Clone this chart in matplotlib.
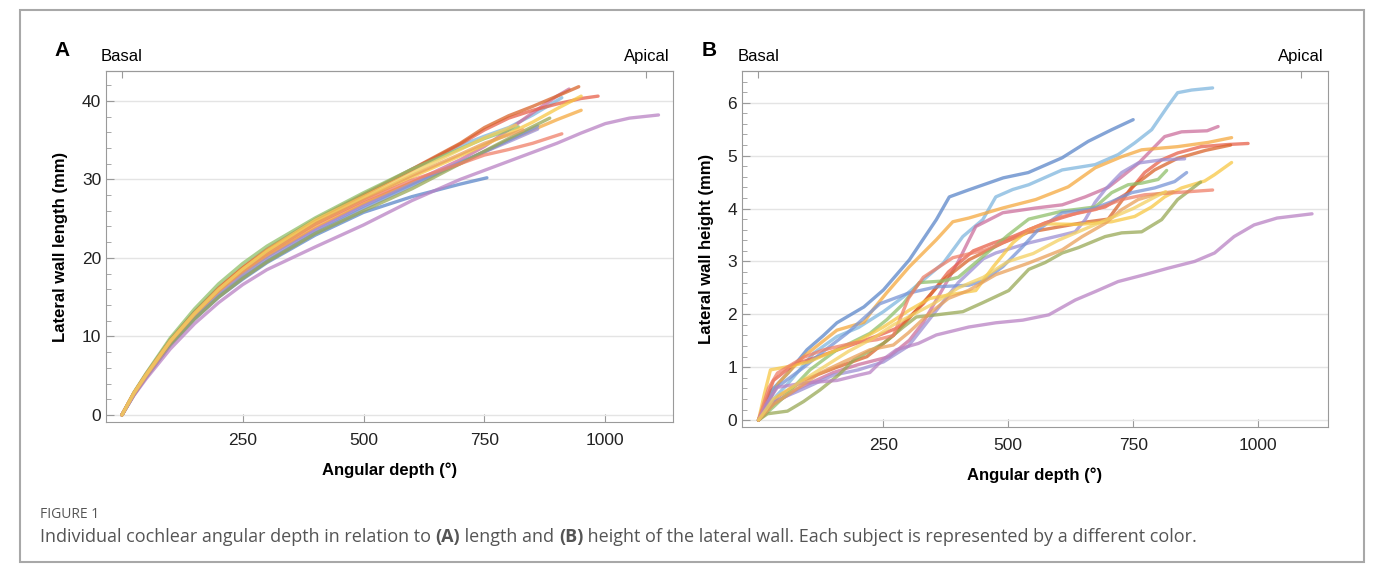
import matplotlib
matplotlib.use("Agg")
import matplotlib.pyplot as plt
from matplotlib.ticker import MultipleLocator
from matplotlib.patches import Rectangle

# subjects: colour, angular depth samples and readings for length (A) / height (B)
colors = ["#5b86c9", "#7fb6de", "#cc6f9c", "#f5a93f", "#e8604a", "#d9652b", "#9c8fd4",
          "#8fc06a", "#7895d6", "#f7c744", "#98a855", "#ef7f68", "#b982c4", "#e9a05a", "#f3d060"]

len_deg = [
    [0, 25, 50, 100, 150, 200, 250, 300, 400, 500, 600, 650, 700, 755],
    [0, 25, 50, 100, 150, 200, 250, 300, 400, 500, 600, 700, 750, 800, 850, 910],
    [0, 25, 50, 100, 150, 200, 250, 300, 400, 500, 600, 700, 750, 800, 850, 900, 925],
    [0, 25, 50, 100, 150, 200, 250, 300, 400, 500, 600, 700, 750, 800, 850, 900, 950],
    [0, 25, 50, 100, 150, 200, 250, 300, 400, 500, 600, 700, 750, 800, 850, 900, 950, 985],
    [0, 25, 50, 100, 150, 200, 250, 300, 400, 500, 600, 700, 750, 800, 850, 900, 945],
    [0, 25, 50, 100, 150, 200, 250, 300, 400, 500, 600, 700, 800, 860],
    [0, 25, 50, 100, 150, 200, 250, 300, 400, 500, 600, 700, 750, 820],
    [0, 25, 50, 100, 150, 200, 250, 300, 400, 500, 600, 700, 800, 860],
    [0, 25, 50, 100, 150, 200, 250, 300, 400, 500, 600, 700, 750, 800, 850, 900, 950],
    [0, 25, 50, 100, 150, 200, 250, 300, 400, 500, 600, 700, 800, 885],
    [0, 25, 50, 100, 150, 200, 250, 300, 400, 500, 600, 700, 750, 800, 850, 910],
    [0, 25, 50, 100, 150, 200, 250, 300, 400, 500, 600, 700, 800, 900, 950, 1000, 1050, 1110],
    [0, 25, 50, 100, 150, 200, 250, 300, 400, 500, 600, 700, 750, 830],
    [0, 25, 50, 100, 150, 200, 250, 300, 400, 500, 600, 700, 750, 815],
]
len_mm = [
    [0, 2.6, 4.8, 8.9, 12.2, 15.0, 17.3, 19.4, 22.9, 25.8, 27.8, 28.6, 29.4, 30.2],
    [0, 2.7, 5.0, 9.3, 12.8, 15.9, 18.5, 20.8, 24.7, 28.0, 31.3, 34.3, 35.5, 36.6, 38.2, 40.4],
    [0, 2.8, 5.2, 9.5, 13.0, 15.9, 18.2, 20.2, 23.7, 26.8, 29.6, 32.5, 34.2, 36.3, 38.5, 40.6, 41.5],
    [0, 2.7, 5.0, 9.2, 12.6, 15.5, 18.0, 20.2, 24.0, 27.0, 29.6, 32.0, 33.5, 35.0, 36.3, 37.6, 38.8],
    [0, 2.8, 5.2, 9.6, 13.1, 16.1, 18.7, 20.9, 24.7, 28.0, 31.2, 34.5, 36.3, 37.8, 38.8, 39.6, 40.3, 40.6],
    [0, 2.8, 5.1, 9.5, 13.1, 16.2, 18.8, 21.1, 24.9, 28.1, 31.3, 34.6, 36.6, 38.1, 39.3, 40.6, 41.8],
    [0, 2.7, 5.0, 9.1, 12.5, 15.4, 17.8, 19.9, 23.5, 26.6, 29.4, 32.2, 34.8, 36.4],
    [0, 2.9, 5.3, 9.8, 13.5, 16.7, 19.3, 21.5, 25.1, 28.3, 31.3, 33.9, 35.2, 36.7],
    [0, 2.6, 4.9, 9.0, 12.3, 15.1, 17.5, 19.6, 23.2, 26.3, 29.2, 32.1, 35.0, 36.8],
    [0, 2.8, 5.1, 9.4, 12.9, 15.9, 18.5, 20.8, 24.5, 27.5, 30.3, 33.0, 34.4, 35.8, 37.3, 39.0, 40.6],
    [0, 2.6, 4.8, 8.9, 12.2, 15.0, 17.4, 19.5, 23.1, 26.0, 28.8, 32.0, 35.2, 37.8],
    [0, 2.8, 5.1, 9.4, 12.9, 15.9, 18.4, 20.6, 24.3, 27.3, 29.9, 32.0, 33.1, 33.8, 34.6, 35.8],
    [0, 2.5, 4.6, 8.4, 11.6, 14.3, 16.6, 18.5, 21.4, 24.2, 27.3, 30.0, 32.3, 34.6, 35.9, 37.1, 37.8, 38.2],
    [0, 2.7, 5.0, 9.3, 12.8, 15.8, 18.4, 20.6, 24.4, 27.6, 30.5, 33.2, 34.6, 36.3],
    [0, 2.8, 5.1, 9.4, 12.9, 16.0, 18.6, 20.9, 24.8, 27.8, 30.8, 33.8, 35.3, 36.9],
]

hgt_deg = [
    [0, 25, 60, 97, 130, 157, 211, 250, 302, 356, 382, 420, 490, 540, 608, 660, 707, 750],
    [0, 30, 60, 111, 157, 200, 250, 290, 330, 370, 409, 449, 475, 509, 541, 608, 674, 720, 753, 787, 819, 839, 867, 909],
    [0, 30, 80, 150, 200, 262, 302, 330, 370, 400, 421, 435, 489, 555, 608, 654, 700, 727, 760, 787, 813, 847, 898, 920],
    [0, 40, 90, 157, 211, 230, 256, 302, 356, 389, 421, 489, 555, 620, 674, 727, 767, 839, 900, 947],
    [0, 30, 70, 120, 180, 240, 280, 330, 380, 430, 470, 509, 574, 640, 694, 740, 773, 807, 839, 886, 939, 980],
    [0, 40, 91, 157, 217, 270, 322, 370, 421, 489, 540, 600, 660, 700, 747, 793, 839, 895, 945],
    [0, 30, 80, 150, 200, 250, 300, 350, 400, 450, 475, 541, 608, 634, 654, 674, 694, 727, 760, 807, 853],
    [0, 30, 58, 103, 157, 223, 257, 290, 322, 370, 400, 450, 500, 541, 608, 674, 707, 740, 767, 800, 817],
    [0, 34, 91, 130, 177, 243, 300, 356, 421, 449, 489, 529, 560, 590, 608, 668, 707, 747, 793, 833, 857],
    [0, 12, 24, 64, 100, 150, 200, 250, 302, 343, 389, 435, 470, 509, 541, 574, 640, 707, 753, 787, 813, 847, 893, 913, 947],
    [0, 18, 58, 90, 123, 160, 191, 250, 290, 316, 356, 409, 449, 501, 541, 574, 608, 640, 694, 727, 767, 807, 839, 885],
    [0, 20, 38, 91, 131, 191, 237, 270, 300, 330, 389, 455, 500, 541, 608, 674, 727, 773, 833, 909],
    [0, 15, 38, 91, 157, 200, 223, 250, 276, 320, 356, 421, 475, 529, 581, 634, 674, 720, 773, 819, 873, 913, 952, 992, 1038, 1108],
    [0, 30, 70, 123, 170, 223, 270, 300, 340, 380, 420, 475, 541, 608, 648, 694, 727, 760, 800, 830],
    [0, 30, 80, 130, 180, 230, 270, 300, 350, 400, 450, 500, 550, 600, 650, 700, 750, 790, 815],
]
hgt_mm = [
    [0, 0.55, 0.9, 1.33, 1.6, 1.84, 2.14, 2.46, 3.03, 3.79, 4.22, 4.35, 4.58, 4.68, 4.96, 5.27, 5.49, 5.68],
    [0, 0.4, 0.7, 1.27, 1.58, 1.75, 2.05, 2.33, 2.65, 2.97, 3.47, 3.79, 4.22, 4.36, 4.45, 4.73, 4.83, 5.02, 5.24, 5.49, 5.93, 6.19, 6.24, 6.28],
    [0, 0.3, 0.6, 0.9, 1.05, 1.2, 1.51, 1.85, 2.5, 3.0, 3.4, 3.66, 3.92, 4.01, 4.07, 4.22, 4.4, 4.6, 4.85, 5.11, 5.36, 5.45, 5.47, 5.55],
    [0, 0.7, 1.2, 1.7, 1.85, 2.1, 2.4, 2.9, 3.41, 3.75, 3.82, 4.01, 4.17, 4.41, 4.77, 4.98, 5.11, 5.17, 5.25, 5.34],
    [0, 0.75, 1.05, 1.2, 1.4, 1.6, 1.75, 2.2, 2.8, 3.2, 3.35, 3.47, 3.73, 3.92, 4.03, 4.3, 4.68, 4.92, 5.05, 5.17, 5.21, 5.23],
    [0, 0.45, 0.76, 1.0, 1.2, 1.6, 2.14, 2.65, 3.03, 3.35, 3.55, 3.65, 3.75, 3.8, 4.4, 4.73, 4.95, 5.1, 5.2],
    [0, 0.35, 0.55, 0.85, 0.95, 1.1, 1.4, 2.0, 2.6, 3.05, 3.16, 3.35, 3.5, 3.56, 3.79, 4.12, 4.36, 4.68, 4.86, 4.92, 4.94],
    [0, 0.25, 0.5, 0.95, 1.33, 1.64, 1.9, 2.2, 2.6, 2.63, 2.7, 3.1, 3.5, 3.8, 3.95, 4.03, 4.3, 4.45, 4.48, 4.55, 4.72],
    [0, 0.6, 1.0, 1.3, 1.64, 2.2, 2.4, 2.52, 2.55, 2.63, 2.9, 3.28, 3.6, 3.8, 3.92, 3.99, 4.13, 4.3, 4.39, 4.51, 4.68],
    [0, 0.5, 0.95, 1.02, 1.1, 1.3, 1.5, 1.76, 2.08, 2.3, 2.38, 2.45, 2.9, 3.35, 3.6, 3.71, 3.7, 3.75, 3.85, 4.03, 4.22, 4.39, 4.52, 4.64, 4.87],
    [0, 0.12, 0.17, 0.35, 0.57, 0.85, 1.14, 1.45, 1.76, 1.95, 1.99, 2.05, 2.22, 2.45, 2.85, 2.98, 3.16, 3.26, 3.47, 3.54, 3.56, 3.79, 4.17, 4.5],
    [0, 0.6, 0.89, 1.19, 1.33, 1.46, 1.52, 1.6, 2.3, 2.7, 3.07, 3.22, 3.4, 3.6, 3.85, 3.98, 4.17, 4.26, 4.3, 4.35],
    [0, 0.3, 0.62, 0.7, 0.75, 0.85, 0.9, 1.15, 1.33, 1.45, 1.61, 1.76, 1.84, 1.89, 1.99, 2.27, 2.43, 2.62, 2.75, 2.87, 3.0, 3.16, 3.47, 3.69, 3.82, 3.9],
    [0, 0.3, 0.55, 0.89, 1.1, 1.33, 1.42, 1.65, 2.0, 2.3, 2.45, 2.75, 2.97, 3.22, 3.47, 3.72, 3.98, 4.17, 4.28, 4.32],
    [0, 0.4, 0.7, 1.0, 1.3, 1.55, 1.8, 1.95, 2.2, 2.5, 2.7, 3.0, 3.15, 3.4, 3.6, 3.8, 4.0, 4.2, 4.32],
]

xticks = [250, 500, 750, 1000]
top_ticks = [0, 1085]
top_labels = ["Basal", "Apical"]

plt.rcParams["font.family"] = ["Liberation Sans", "DejaVu Sans"]

fig = plt.figure(figsize=(13.75, 5.72), dpi=100)
fig.patches.append(Rectangle((20 / 1375, 10 / 572), 1344 / 1375, 552 / 572, transform=fig.transFigure,
                             fill=False, edgecolor="#a8a8a8", linewidth=1.5))

axA = fig.add_axes([106 / 1375, 1 - 422 / 572, 567 / 1375, 351 / 572])
axB = fig.add_axes([742 / 1375, 1 - 427 / 572, 586 / 1375, 356 / 572])


def style(ax, ylim, ymajor, yminor, ylabel, letter, letter_dx):
    ax.set_xlim(-33, 1140)
    ax.set_ylim(*ylim)
    ax.set_xticks(xticks)
    ax.yaxis.set_major_locator(MultipleLocator(ymajor))
    ax.yaxis.set_minor_locator(MultipleLocator(yminor))
    ax.yaxis.grid(True, color="#e4e4e4", linewidth=1)
    ax.set_axisbelow(True)
    for s in ax.spines.values():
        s.set_color("#9a9a9a")
    ax.tick_params(axis="both", which="both", direction="in", color="#9a9a9a", labelsize=12.5,
                   labelcolor="#222222")
    ax.tick_params(axis="both", which="major", length=6)
    ax.tick_params(axis="y", which="minor", length=3.5)
    ax.tick_params(axis="x", pad=8)
    ax.set_xlabel("Angular depth (°)", fontsize=12, fontweight="bold", labelpad=10)
    ax.set_ylabel(ylabel, fontsize=12, fontweight="bold", labelpad=10)
    top = ax.secondary_xaxis("top")
    top.set_xticks(top_ticks)
    top.set_xticklabels(top_labels)
    top.tick_params(direction="in", length=5, color="#9a9a9a", labelsize=12, pad=5)
    top.spines["top"].set_color("#9a9a9a")
    ax.annotate(letter, xy=(0, 1), xycoords="axes fraction", xytext=(letter_dx, 21),
                textcoords="offset pixels", fontsize=15, fontweight="bold", va="center")


for i, c in enumerate(colors):
    axA.plot(len_deg[i], len_mm[i], color=c, lw=2.4, alpha=0.75, solid_capstyle="round")
    axB.plot(hgt_deg[i], hgt_mm[i], color=c, lw=2.4, alpha=0.75, solid_capstyle="round")

style(axA, (-0.9, 43.8), 10, 2, "Lateral wall length (mm)", "A", -52)
style(axB, (-0.13, 6.6), 1, 0.2, "Lateral wall height (mm)", "B", -40)

cap_font = ["Open Sans", "Noto Sans", "DejaVu Sans"]
fig.text(40 / 1375, 1 - 515 / 572, "FIGURE 1", fontsize=10, color="#555555", family=cap_font, va="center")

parts = [("Individual cochlear angular depth in relation to ", "normal"), ("(A)", "bold"),
         (" length and ", "normal"), ("(B)", "bold"),
         (" height of the lateral wall. Each subject is represented by a different color.", "normal")]
renderer = fig.canvas.get_renderer()
x = 40 / 1375
for txt, w in parts:
    t = fig.text(x, 1 - 537 / 572, txt, fontsize=13, color="#555555", family=cap_font,
                 fontweight=w, va="center")
    bb = t.get_window_extent(renderer=renderer)
    x = bb.x1 / fig.bbox.width

fig.savefig("out.png", dpi=100)
